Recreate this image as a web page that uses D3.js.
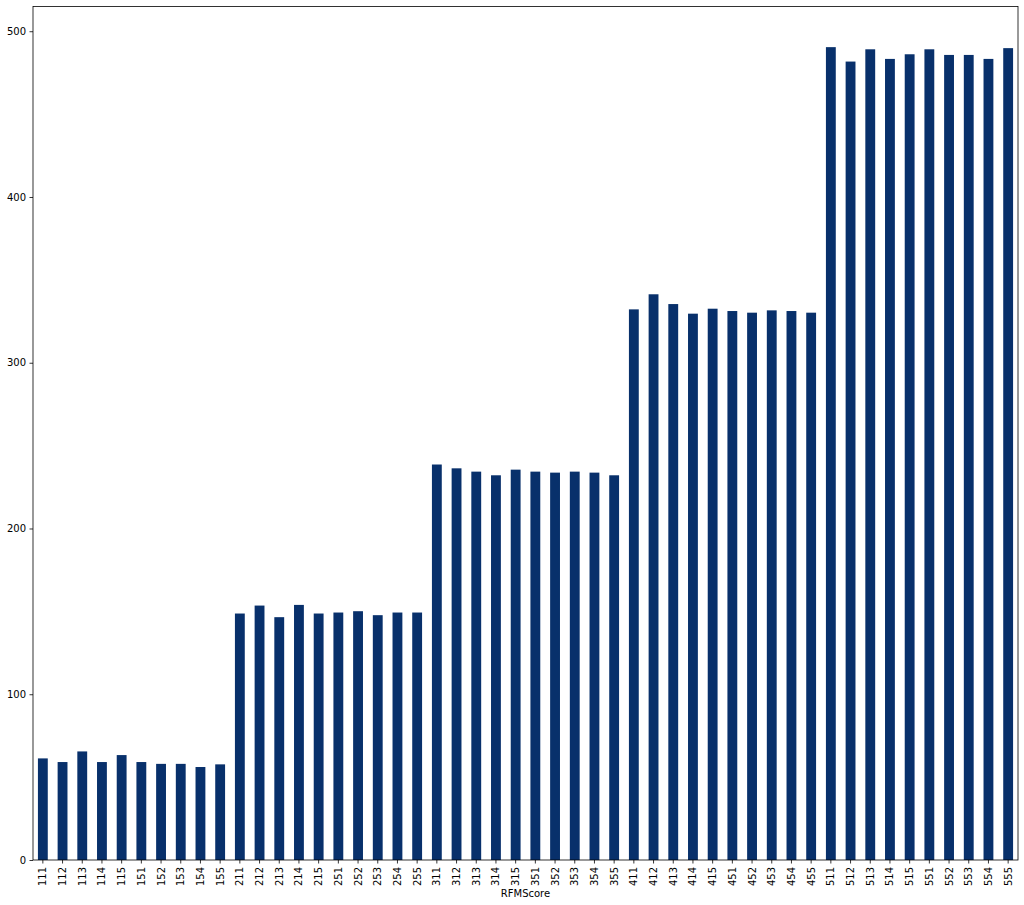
<!DOCTYPE html>
<html>
<head>
<meta charset="utf-8">
<title>RFMScore</title>
<script src="https://cdn.jsdelivr.net/npm/d3@7"></script>
<style>
  body { margin: 0; background: #fff; }
  svg text { font-family: "DejaVu Sans", sans-serif; fill: #000; }
</style>
</head>
<body>
<div id="chart"></div>
<script>
// categories (RFMScore) and bar heights
var scores = ['111','112','113','114','115','151','152','153','154','155',
              '211','212','213','214','215','251','252','253','254','255',
              '311','312','313','314','315','351','352','353','354','355',
              '411','412','413','414','415','451','452','453','454','455',
              '511','512','513','514','515','551','552','553','554','555'];
var values = [61.3, 59.1, 65.5, 59.1, 63.3, 59.1, 58.0, 58.0, 56.1, 57.7,
              148.7, 153.5, 146.5, 153.9, 148.7, 149.3, 150.1, 147.7, 149.3, 149.3,
              238.6, 236.3, 234.3, 232.1, 235.5, 234.3, 233.7, 234.3, 233.7, 232.1,
              332.2, 341.3, 335.4, 329.6, 332.6, 331.2, 330.2, 331.6, 331.2, 330.2,
              490.4, 481.7, 489.1, 483.3, 486.1, 489.1, 485.7, 485.7, 483.3, 489.8];
var yTicks = [0, 100, 200, 300, 400, 500];

var width = 1024, height = 905;
var margin = {top: 6.5, right: 6, bottom: 45, left: 33};
var innerW = width - margin.left - margin.right;
var innerH = height - margin.top - margin.bottom;

var svg = d3.select('#chart').append('svg')
  .attr('width', width)
  .attr('height', height);
var g = svg.append('g')
  .attr('transform', 'translate(' + margin.left + ',' + margin.top + ')');

var x = d3.scaleBand()
  .domain(scores)
  .range([0, innerW])
  .paddingInner(0.5)
  .paddingOuter(0.25);

var y = d3.scaleLinear()
  .domain([0, d3.max(values) * 1.05])
  .range([innerH, 0]);

g.selectAll('rect.bar')
  .data(values)
  .enter()
  .append('rect')
  .attr('class', 'bar')
  .attr('x', function(d, i) { return x(scores[i]); })
  .attr('width', x.bandwidth())
  .attr('y', function(d) { return y(d); })
  .attr('height', function(d) { return innerH - y(d); })
  .attr('fill', '#08306b');

var yAxis = g.append('g')
  .call(d3.axisLeft(y).tickValues(yTicks).tickSize(3.5).tickPadding(3.5).tickFormat(d3.format('d')));
yAxis.select('.domain').remove();
yAxis.selectAll('line').attr('stroke', '#000').attr('stroke-width', 0.8);
yAxis.selectAll('text').style('font-size', '10px');

var xAxis = g.append('g')
  .attr('transform', 'translate(0,' + innerH + ')')
  .call(d3.axisBottom(x).tickSize(3.5).tickPadding(3.5));
xAxis.select('.domain').remove();
xAxis.selectAll('line').attr('stroke', '#000').attr('stroke-width', 0.8);
xAxis.selectAll('text')
  .style('font-size', '10px')
  .attr('transform', 'rotate(-90)')
  .attr('x', -7)
  .attr('y', 0)
  .attr('dy', '0.35em')
  .style('text-anchor', 'end');

// frame
g.append('rect')
  .attr('width', innerW)
  .attr('height', innerH)
  .attr('fill', 'none')
  .attr('stroke', '#000')
  .attr('stroke-width', 0.8);

svg.append('text')
  .attr('x', margin.left + innerW / 2)
  .attr('y', 897)
  .attr('text-anchor', 'middle')
  .style('font-size', '10px')
  .text('RFMScore');
</script>
</body>
</html>
